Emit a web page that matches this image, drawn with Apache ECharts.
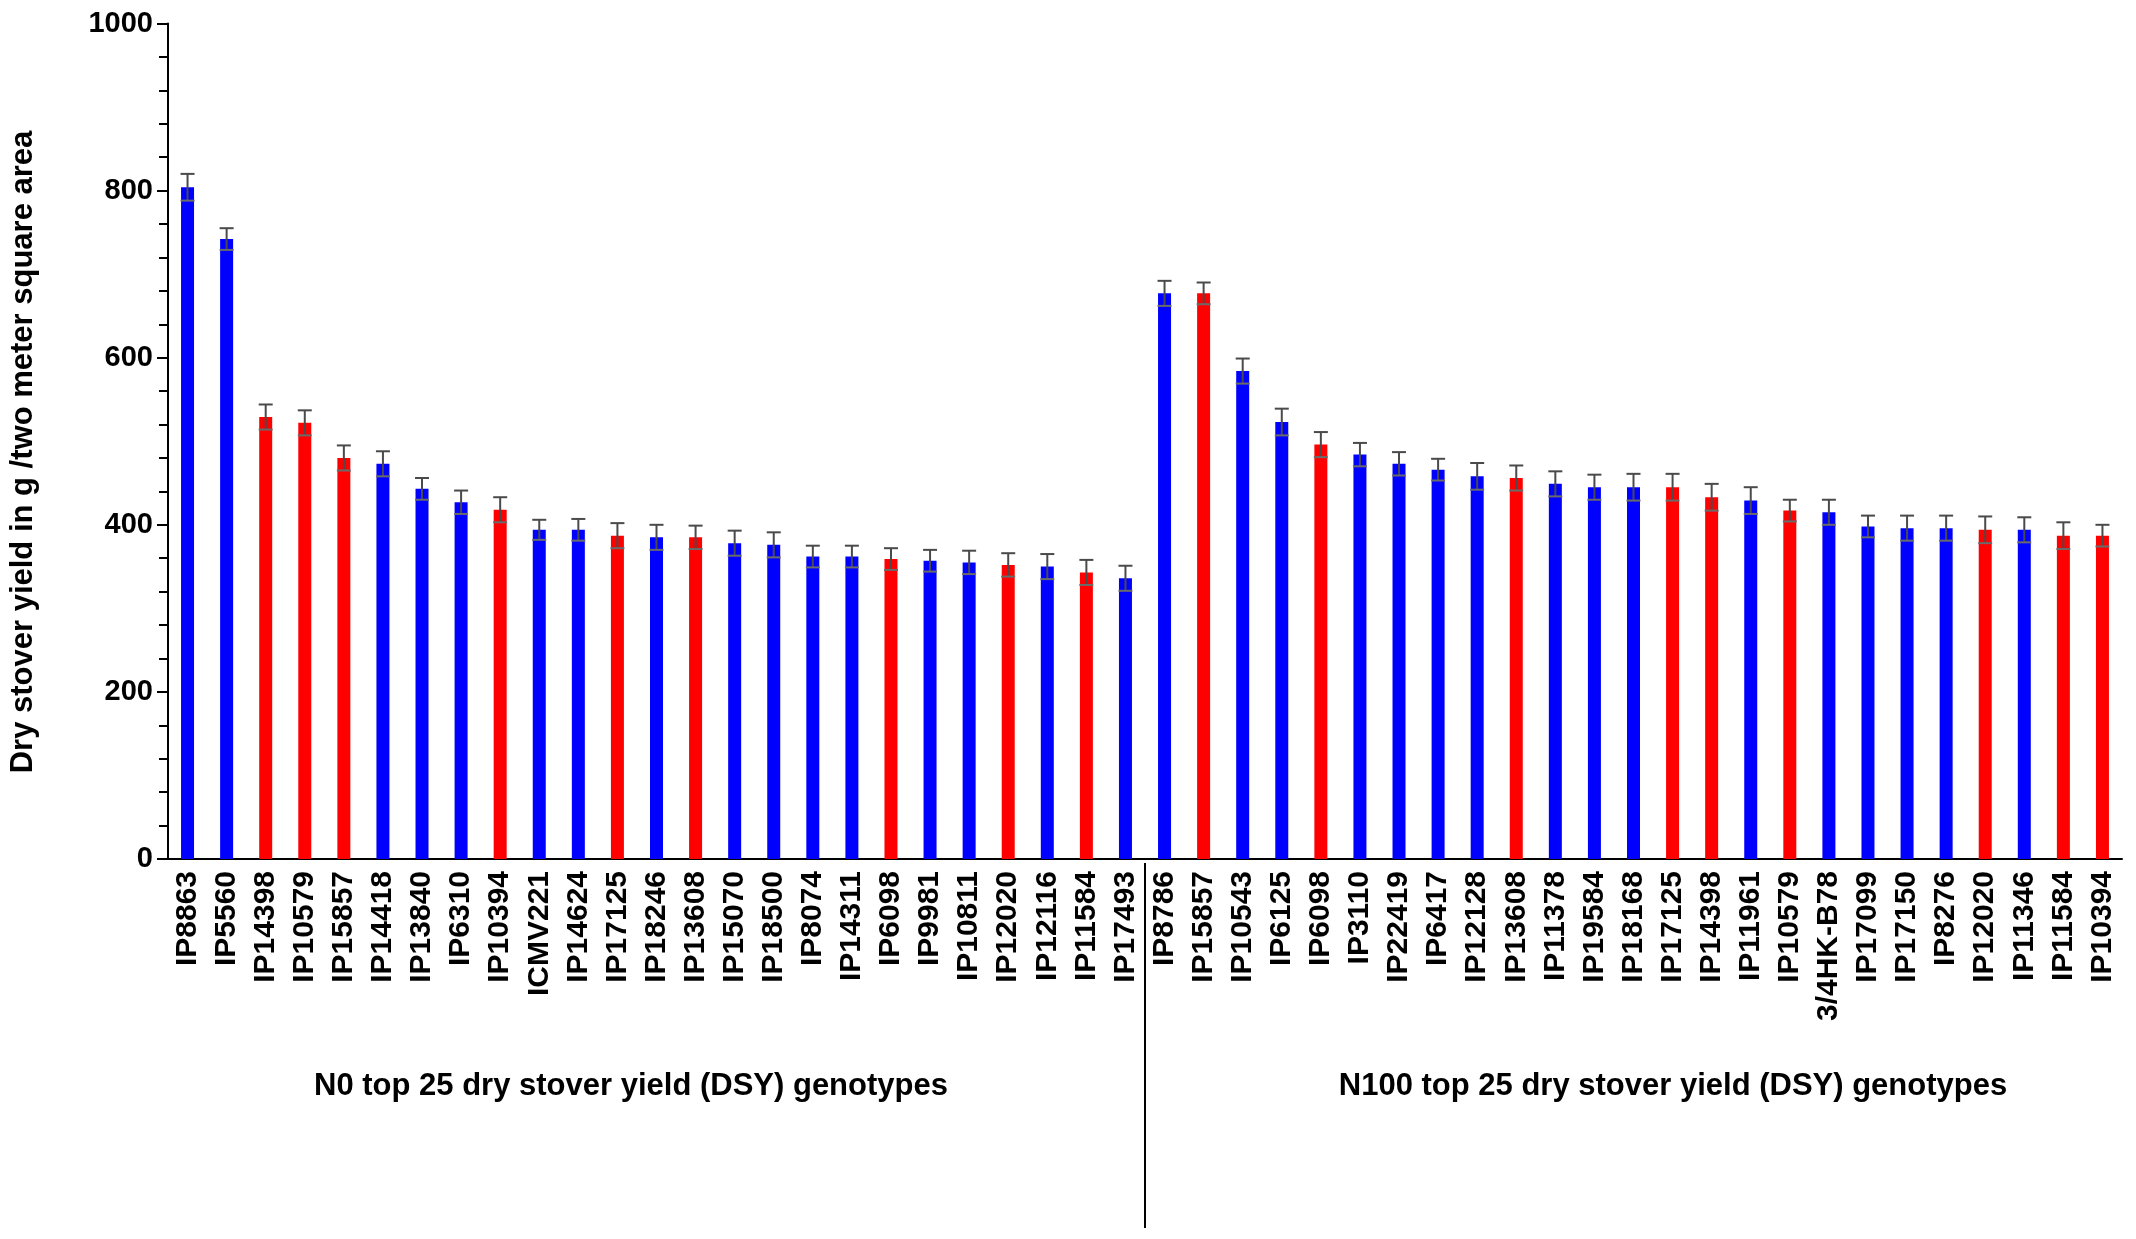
<!DOCTYPE html>
<html>
<head>
<meta charset="utf-8">
<script src="https://cdn.jsdelivr.net/npm/echarts@6/dist/echarts.min.js"></script>
<style>
html,body{margin:0;padding:0;background:#fff;}
#main{width:2136px;height:1239px;}
</style>
</head>
<body>
<div id="main"></div>
<script>
// N0 genotypes
var n0Names = ['IP8863','IP5560','IP14398','IP10579','IP15857','IP14418','IP13840','IP6310','IP10394','ICMV221',
    'IP14624','IP17125','IP18246','IP13608','IP15070','IP18500','IP8074','IP14311','IP6098','IP9981',
    'IP10811','IP12020','IP12116','IP11584','IP17493'];
var n0Yield = [804,742,529,522,480,473,443,427,418,394,394,387,385,385,378,376,362,362,359,357,355,352,350,343,336];
var n0Err = [16,13,15,15,15,15,13,14,15,12,13,15,15,14,15,15,13,13,13,13,14,14,15,15,15];
var n0Marked = [0,0,1,1,1,0,0,0,1,0,0,1,0,1,0,0,0,0,1,0,0,1,0,1,0];

// N100 genotypes
var n100Names = ['IP8786','IP15857','IP10543','IP6125','IP6098','IP3110','IP22419','IP6417','IP12128','IP13608',
    'IP11378','IP19584','IP18168','IP17125','IP14398','IP11961','IP10579','3/4HK-B78','IP17099','IP17150',
    'IP8276','IP12020','IP11346','IP11584','IP10394'];
var n100Yield = [677,677,584,523,496,484,473,466,458,456,449,445,445,445,433,429,417,415,398,396,396,394,394,387,387];
var n100Err = [15,13,15,16,15,14,14,13,16,15,15,15,16,16,16,16,13,15,13,15,15,16,15,16,13];
var n100Marked = [0,1,0,0,1,0,0,0,0,1,0,0,0,1,1,0,1,0,0,0,0,1,0,1,1];

var yTicks = [0,200,400,600,800,1000];

var FONT = "'Liberation Sans', Arial, sans-serif";

var names = n0Names.concat(n100Names);
var yields = n0Yield.concat(n100Yield);
var errs = n0Err.concat(n100Err);
var marked = n0Marked.concat(n100Marked);

var barData = [];
var errData = [];
for (var i = 0; i < names.length; i++) {
    barData.push({
        value: yields[i],
        itemStyle: {color: marked[i] ? '#ff0000' : '#0000ff'}
    });
    errData.push([i, yields[i], errs[i]]);
}

var chart = echarts.init(document.getElementById('main'));

var option = {
    animation: false,
    grid: {left: 168, right: 14, top: 23.5, bottom: 380},
    xAxis: {
        type: 'category',
        data: names,
        axisLine: {lineStyle: {color: '#000', width: 2}},
        axisTick: {alignWithLabel: true, length: 9, lineStyle: {color: '#000', width: 2}},
        axisLabel: {
            rotate: 90,
            interval: 0,
            margin: 12,
            color: '#000',
            fontFamily: FONT,
            fontWeight: 'bold',
            fontSize: 30
        }
    },
    yAxis: {
        type: 'value',
        min: yTicks[0],
        max: yTicks[yTicks.length - 1],
        interval: 200,
        axisLine: {show: true, lineStyle: {color: '#000', width: 2}},
        axisTick: {show: true, length: 11, lineStyle: {color: '#000', width: 2}},
        minorTick: {show: true, splitNumber: 5, length: 9, lineStyle: {color: '#000', width: 2}},
        splitLine: {show: false},
        axisLabel: {
            margin: 15,
            color: '#000',
            fontFamily: FONT,
            fontWeight: 'bold',
            fontSize: 29,
            formatter: function (v) { return String(v); }
        }
    },
    series: [
        {
            type: 'bar',
            data: barData,
            barWidth: 13
        },
        {
            type: 'custom',
            data: errData,
            encode: {x: 0, y: 1},
            z: 5,
            renderItem: function (params, api) {
                var x = api.value(0);
                var v = api.value(1);
                var e = api.value(2);
                var hi = api.coord([x, v + e]);
                var lo = api.coord([x, v - e]);
                var w = 7;
                return {
                    type: 'group',
                    children: [
                        {type: 'line', shape: {x1: hi[0], y1: hi[1], x2: lo[0], y2: lo[1]},
                            style: {stroke: '#4a4a4a', lineWidth: 2}},
                        {type: 'line', shape: {x1: hi[0] - w, y1: hi[1], x2: hi[0] + w, y2: hi[1]},
                            style: {stroke: '#4a4a4a', lineWidth: 2}},
                        {type: 'line', shape: {x1: lo[0] - w, y1: lo[1], x2: lo[0] + w, y2: lo[1]},
                            style: {stroke: '#6a6a6a', lineWidth: 2}}
                    ]
                };
            }
        }
    ]
};
chart.setOption(option);

// separator between the two groups and group titles
var xa = chart.convertToPixel({xAxisIndex: 0}, n0Names.length - 1);
var xb = chart.convertToPixel({xAxisIndex: 0}, n0Names.length);
var sepX = (xa + xb) / 2;

chart.setOption({
    graphic: [
        {
            type: 'line',
            shape: {x1: sepX, y1: 863, x2: sepX, y2: 1228},
            style: {stroke: '#000', lineWidth: 2}
        },
        {
            type: 'text',
            x: 23, y: 452,
            rotation: Math.PI / 2,
            style: {
                text: 'Dry stover yield in g /two meter square area',
                fontFamily: FONT, fontWeight: 'bold', fontSize: 31,
                fill: '#000', align: 'center', verticalAlign: 'middle'
            }
        },
        {
            type: 'text',
            x: 631, y: 1086,
            style: {
                text: 'N0 top 25 dry stover yield (DSY) genotypes',
                fontFamily: FONT, fontWeight: 'bold', fontSize: 31,
                fill: '#000', align: 'center', verticalAlign: 'middle'
            }
        },
        {
            type: 'text',
            x: 1673, y: 1086,
            style: {
                text: 'N100 top 25 dry stover yield (DSY) genotypes',
                fontFamily: FONT, fontWeight: 'bold', fontSize: 31,
                fill: '#000', align: 'center', verticalAlign: 'middle'
            }
        }
    ]
});
</script>
</body>
</html>
